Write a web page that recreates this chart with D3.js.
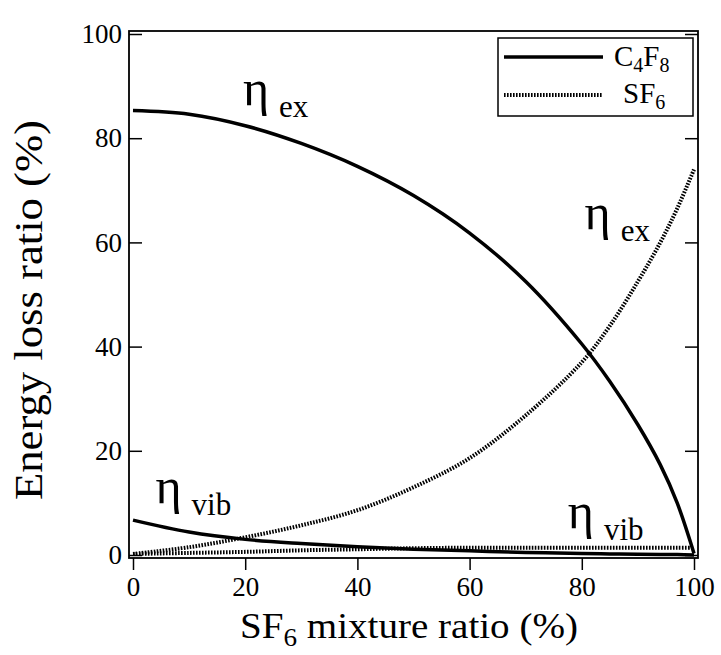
<!DOCTYPE html>
<html>
<head>
<meta charset="utf-8">
<script src="https://cdn.jsdelivr.net/npm/d3@7"></script>
<style>
  body { margin: 0; background: #fff; }
</style>
</head>
<body>
<div id="graph"></div>
<script>
// SF6 mixture ratio (%)
const mix = [0, 10, 20, 30, 40, 50, 60, 70, 80, 85, 90, 94, 97, 100];

// energy loss ratios (%)
const c4f8Ex  = [85.3, 84.6, 82.4, 79.0, 74.6, 69.0, 61.8, 52.5, 40.5, 33.3, 25.0, 17.3, 10.0, 0.3];
const c4f8Vib = [6.7, 4.4, 3.0, 2.2, 1.6, 1.1, 0.8, 0.5, 0.3, 0.2, 0.15, 0.1, 0.1, 0.0];
const sf6Ex   = [0.2, 1.5, 3.4, 5.7, 8.6, 13.0, 18.6, 26.8, 37.0, 44.0, 52.5, 60.0, 66.5, 74.0];
const sf6Vib  = [0.2, 0.4, 0.6, 0.9, 1.1, 1.3, 1.4, 1.4, 1.4, 1.4, 1.4, 1.4, 1.4, 1.4];

const xTicks = [0, 20, 40, 60, 80, 100];
const yTicks = [0, 20, 40, 60, 80, 100];

(function () {
const width = 721, height = 655;
const serif = "'Liberation Serif', 'Times New Roman', serif";

const svg = d3.select("#graph")
    .append("svg")
    .attr("width", width)
    .attr("height", height);

const x = d3.scaleLinear().domain([0, 100]).range([133, 694]);
const y = d3.scaleLinear().domain([0, 100]).range([555, 34]);

const fLeft = 129, fRight = 698, fTop = 31, fBottom = 558;

// frame
svg.append("rect")
    .attr("x", fLeft).attr("y", fTop)
    .attr("width", fRight - fLeft).attr("height", fBottom - fTop)
    .attr("fill", "none").attr("stroke", "#000").attr("stroke-width", 1.8);

// axes
const styleAxis = g => {
    g.attr("font-family", null).attr("font-size", null);
    g.select(".domain").remove();
    g.selectAll("line").attr("stroke", "#000").attr("stroke-width", 1.5);
    g.selectAll("text").style("font-size", "27px").style("font-family", serif).attr("fill", "#000");
};

svg.append("g")
    .attr("transform", `translate(${fLeft},0)`)
    .call(d3.axisLeft(y).tickValues(yTicks).tickSize(-13).tickPadding(7))
    .call(styleAxis);

svg.append("g")
    .attr("transform", `translate(${fRight},0)`)
    .call(d3.axisRight(y).tickValues(yTicks).tickSize(-13).tickFormat(""))
    .call(styleAxis);

svg.append("g")
    .attr("transform", `translate(0,${fBottom})`)
    .call(d3.axisBottom(x).tickValues(xTicks).tickSize(12).tickPadding(7))
    .call(styleAxis);

// curves
const series = [
    { vals: c4f8Ex,  dotted: false },
    { vals: c4f8Vib, dotted: false },
    { vals: sf6Ex,   dotted: true },
    { vals: sf6Vib,  dotted: true }
];

const line = d3.line()
    .x(d => x(d[0]))
    .y(d => y(d[1]))
    .curve(d3.curveCatmullRom);

svg.selectAll("path.curve")
    .data(series)
    .enter()
    .append("path")
    .attr("class", "curve")
    .attr("d", s => line(mix.map((m, i) => [m, s.vals[i]])))
    .attr("fill", "none")
    .attr("stroke", "#000")
    .attr("stroke-width", s => s.dotted ? 4 : 3.5)
    .attr("stroke-dasharray", s => s.dotted ? "1.6,1.4" : null);

// eta annotations (data coords of the eta baseline)
const etaLabels = [
    { mx: 19.6, my: 86.4, sub: "ex" },
    { mx: 80.5, my: 62.5, sub: "ex" },
    { mx: 4.0,  my: 10.0, sub: "vib" },
    { mx: 77.5, my: 5.2,  sub: "vib" }
];

etaLabels.forEach(l => {
    const t = svg.append("text")
        .attr("x", x(l.mx))
        .attr("y", y(l.my))
        .style("font-family", serif);
    t.append("tspan").style("font-size", "50px").text("η");
    t.append("tspan").style("font-size", "31px").attr("dx", 10).attr("dy", 12).text(l.sub);
});

// legend
const lg = svg.append("g");
lg.append("rect")
    .attr("x", 498).attr("y", 38).attr("width", 195).attr("height", 78)
    .attr("fill", "#fff").attr("stroke", "#000").attr("stroke-width", 1.5);
lg.append("line")
    .attr("x1", 504).attr("x2", 603).attr("y1", 57).attr("y2", 57)
    .attr("stroke", "#000").attr("stroke-width", 3.5);
lg.append("line")
    .attr("x1", 504).attr("x2", 603).attr("y1", 95).attr("y2", 95)
    .attr("stroke", "#000").attr("stroke-width", 4).attr("stroke-dasharray", "1.6,1.4");

const t1 = lg.append("text").attr("x", 614).attr("y", 66)
    .style("font-family", serif).style("font-size", "29px");
t1.append("tspan").text("C");
t1.append("tspan").style("font-size", "20px").attr("dy", 6).text("4");
t1.append("tspan").attr("dy", -6).text("F");
t1.append("tspan").style("font-size", "20px").attr("dy", 6).text("8");

const t2 = lg.append("text").attr("x", 623).attr("y", 103)
    .style("font-family", serif).style("font-size", "29px");
t2.append("tspan").text("SF");
t2.append("tspan").style("font-size", "20px").attr("dy", 6).text("6");

// axis titles
const xt = svg.append("text")
    .attr("x", 240).attr("y", 638)
    .attr("textLength", 338).attr("lengthAdjust", "spacingAndGlyphs")
    .style("font-family", serif).style("font-size", "36px");
xt.append("tspan").text("SF");
xt.append("tspan").style("font-size", "25px").attr("dy", 8).text("6");
xt.append("tspan").attr("dy", -8).text(" mixture ratio (%)");

svg.append("text")
    .attr("transform", "translate(42,500) rotate(-90)")
    .attr("textLength", 380).attr("lengthAdjust", "spacingAndGlyphs")
    .style("font-family", serif).style("font-size", "40px")
    .text("Energy loss ratio (%)");
})();
</script>
</body>
</html>
